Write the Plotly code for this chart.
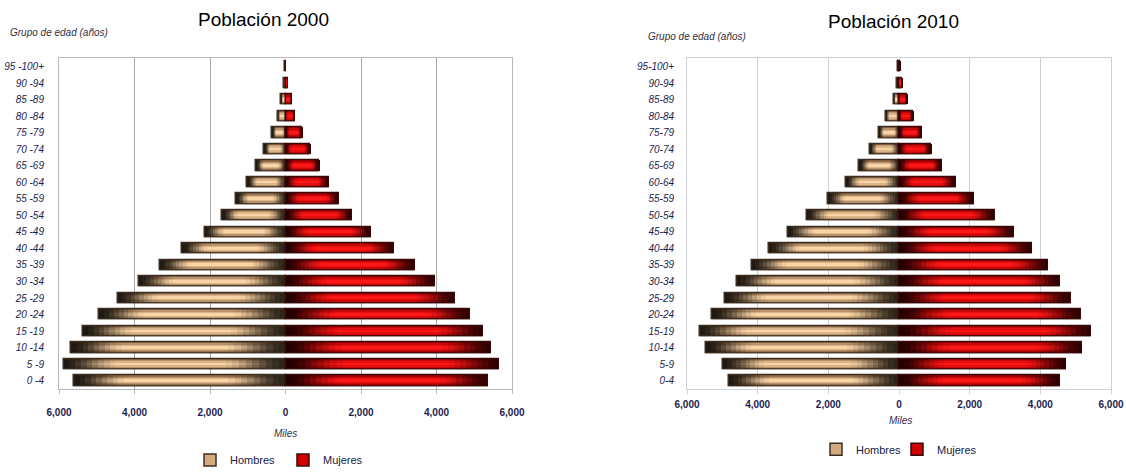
import plotly.graph_objects as go

# ---------------- data ----------------
age_2000 = ["0 -4", "5 -9", "10 -14", "15 -19", "20 -24", "25 -29", "30 -34", "35 -39",
            "40 -44", "45 -49", "50 -54", "55 -59", "60 -64", "65 -69", "70 -74",
            "75 -79", "80 -84", "85 -89", "90 -94", "95 -100+"]
age_2010 = ["0-4", "5-9", "10-14", "15-19", "20-24", "25-29", "30-34", "35-39",
            "40-44", "45-49", "50-54", "55-59", "60-64", "65-69", "70-74",
            "75-79", "80-84", "85-89", "90-94", "95-100+"]

hombres_2000 = [5600, 5880, 5670, 5360, 4930, 4450, 3890, 3330, 2730, 2140,
                1670, 1310, 1010, 780, 560, 350, 210, 115, 45, 10]
mujeres_2000 = [5360, 5650, 5450, 5230, 4900, 4500, 3970, 3430, 2880, 2260,
                1760, 1410, 1140, 900, 660, 450, 250, 165, 60, 12]
hombres_2010 = [4820, 4990, 5460, 5640, 5280, 4920, 4580, 4170, 3680, 3150,
                2610, 2010, 1500, 1130, 830, 580, 380, 150, 50, 20]
mujeres_2010 = [4550, 4730, 5190, 5420, 5140, 4870, 4570, 4230, 3760, 3260,
                2710, 2110, 1600, 1220, 910, 650, 400, 230, 90, 40]

tick_vals = [-6000, -4000, -2000, 0, 2000, 4000, 6000]
tick_text = ["6,000", "4,000", "2,000", "0", "2,000", "4,000", "6,000"]
grid_vals = [-4000, -2000, 2000, 4000]

# ---------------- style ----------------
W, H = 1126, 475
FONT = "Liberation Sans Narrow, Arial Narrow, Liberation Sans, Arial, sans-serif"
NAVY = "#1d1d4e"
LAYERS = [(0.62, 0.0), (0.48, 0.35), (0.32, 0.7), (0.16, 1.0)]  # (bar width, vertical lightness)

# fractional breakpoints along each bar (0 = zero line, 1 = outer end)
BREAKS = ([i * 0.30 / 10 for i in range(10)] + [0.30, 0.41, 0.52, 0.63] +
          [0.74 + i * 0.26 / 10 for i in range(11)])

MEN = dict(dark0=(44, 36, 24), dark1=(30, 24, 16), edge=(150, 112, 76), center=(250, 212, 166),
           base="#d2aa7e", line="#3c2e20")
WOM = dict(dark0=(34, 0, 0), dark1=(48, 0, 0), edge=(170, 0, 0), center=(255, 22, 22),
           base="#d00000", line="#3a0808")


def lerp(a, b, t):
    return tuple(a[i] + (b[i] - a[i]) * t for i in range(3))


def smooth(x):
    x = max(0.0, min(1.0, x))
    return x * x * (3 - 2 * x)


def seg_color(pal, t, v):
    h = smooth(t / 0.30) * smooth((1 - t) / 0.26)
    dark = lerp(pal["dark0"], pal["dark1"], t)
    light = lerp(pal["edge"], pal["center"], v)
    c = lerp(dark, light, h)
    return "rgb(%d,%d,%d)" % tuple(int(round(x)) for x in c)


def px_x(p):
    return p / W


def px_y(p):
    return 1 - p / H


fig = go.Figure()


def add_pyramid(ages, men, women, xa, ya, legend):
    for vals, pal, sign, name in ((men, MEN, -1, "Hombres"), (women, WOM, 1, "Mujeres")):
        # base bar (also provides the legend symbol)
        fig.add_trace(go.Bar(
            y=ages, x=[sign * v for v in vals], base=0, orientation="h", width=0.62,
            marker=dict(color=pal["base"], line=dict(color=pal["line"], width=1.5)),
            name=name, showlegend=True, legend=legend, xaxis=xa, yaxis=ya, hoverinfo="skip"))
        # gradient segments
        for w, v in LAYERS:
            for k in range(len(BREAKS) - 1):
                a, b = BREAKS[k], BREAKS[k + 1]
                t = (a + b) / 2
                fig.add_trace(go.Bar(
                    y=ages, x=[sign * val * (b - a) for val in vals],
                    base=[sign * val * a for val in vals],
                    orientation="h", width=w,
                    marker=dict(color=seg_color(pal, t, v), line=dict(width=0)),
                    showlegend=False, xaxis=xa, yaxis=ya, hoverinfo="skip"))
        # outline
        fig.add_trace(go.Bar(
            y=ages, x=[sign * v for v in vals], base=0, orientation="h", width=0.62,
            marker=dict(color="rgba(0,0,0,0)", line=dict(color=pal["line"], width=1)),
            showlegend=False, xaxis=xa, yaxis=ya, hoverinfo="skip"))


add_pyramid(age_2000, hombres_2000, mujeres_2000, "x", "y", "legend")
add_pyramid(age_2010, hombres_2010, mujeres_2010, "x2", "y2", "legend2")

ydom = [px_y(394), px_y(59)]


def xaxis(dom, grid_color, box_color, standoff):
    return dict(
        domain=dom, range=[-6000, 6000], tickvals=tick_vals, ticktext=tick_text,
        showgrid=False, zeroline=False, showline=True, mirror=True, linecolor=box_color,
        linewidth=1, ticks="outside", ticklen=4, tickcolor=box_color,
        ticklabelstandoff=standoff, ticklabeloverflow="allow",
        tickfont=dict(family=FONT, size=10, color=NAVY, weight="bold"),
        minor=dict(tickvals=grid_vals, showgrid=True, gridcolor=grid_color, gridwidth=1, ticks=""),
        fixedrange=True, automargin=False)


def yaxis(anchor, ages, box_color, standoff):
    return dict(
        domain=ydom, anchor=anchor, type="category", categoryorder="array", categoryarray=ages,
        range=[-0.5, len(ages) - 0.5], showgrid=False, zeroline=False, showline=True,
        mirror=True, linecolor=box_color, ticks="", ticklabelstandoff=standoff,
        tickfont=dict(family=FONT, size=10, color=NAVY, style="italic"),
        fixedrange=True, automargin=False)


fig.update_layout(
    width=W, height=H, margin=dict(l=0, r=0, t=0, b=0),
    paper_bgcolor="white", plot_bgcolor="white", barmode="overlay", bargap=0,
    font=dict(family=FONT, color=NAVY),
    xaxis=xaxis([px_x(59), px_x(512)], "#a8a8a8", "#b8b8b8", 10),
    yaxis=yaxis("x", age_2000, "#b8b8b8", 12),
    xaxis2=xaxis([px_x(687), px_x(1111)], "#cfcfd6", "#d0d0d8", 2),
    yaxis2=yaxis("x2", age_2010, "#d0d0d8", 10),
    legend=dict(orientation="h", x=px_x(190), y=px_y(466), xanchor="left", yanchor="middle",
                font=dict(family=FONT, size=11, color="#202040"), bgcolor="rgba(0,0,0,0)",
                entrywidth=48, entrywidthmode="pixels", traceorder="normal"),
    legend2=dict(orientation="h", x=px_x(816), y=px_y(455), xanchor="left", yanchor="middle",
                 font=dict(family=FONT, size=11, color="#202040"), bgcolor="rgba(0,0,0,0)",
                 entrywidth=36, entrywidthmode="pixels", traceorder="normal"),
    annotations=[
        dict(text="Población 2000", x=px_x(263), y=px_y(20), xref="paper", yref="paper",
             showarrow=False, xanchor="center", yanchor="middle",
             font=dict(family=FONT, size=19, color="black")),
        dict(text="Población 2010", x=px_x(893), y=px_y(22), xref="paper", yref="paper",
             showarrow=False, xanchor="center", yanchor="middle",
             font=dict(family=FONT, size=19, color="black")),
        dict(text="Grupo de edad (años)", x=px_x(8), y=px_y(33), xref="paper", yref="paper",
             showarrow=False, xanchor="left", yanchor="middle",
             font=dict(family=FONT, size=10, color="#303040", style="italic")),
        dict(text="Grupo de edad (años)", x=px_x(646), y=px_y(37), xref="paper", yref="paper",
             showarrow=False, xanchor="left", yanchor="middle",
             font=dict(family=FONT, size=10, color="#303040", style="italic")),
        dict(text="Miles", x=px_x(285), y=px_y(439), xref="paper", yref="paper",
             showarrow=False, xanchor="center", yanchor="middle",
             font=dict(family=FONT, size=10, color="#303050", style="italic")),
        dict(text="Miles", x=px_x(900), y=px_y(426), xref="paper", yref="paper",
             showarrow=False, xanchor="center", yanchor="middle",
             font=dict(family=FONT, size=10, color="#303050", style="italic")),
    ],
)

fig.write_html("out.html")
